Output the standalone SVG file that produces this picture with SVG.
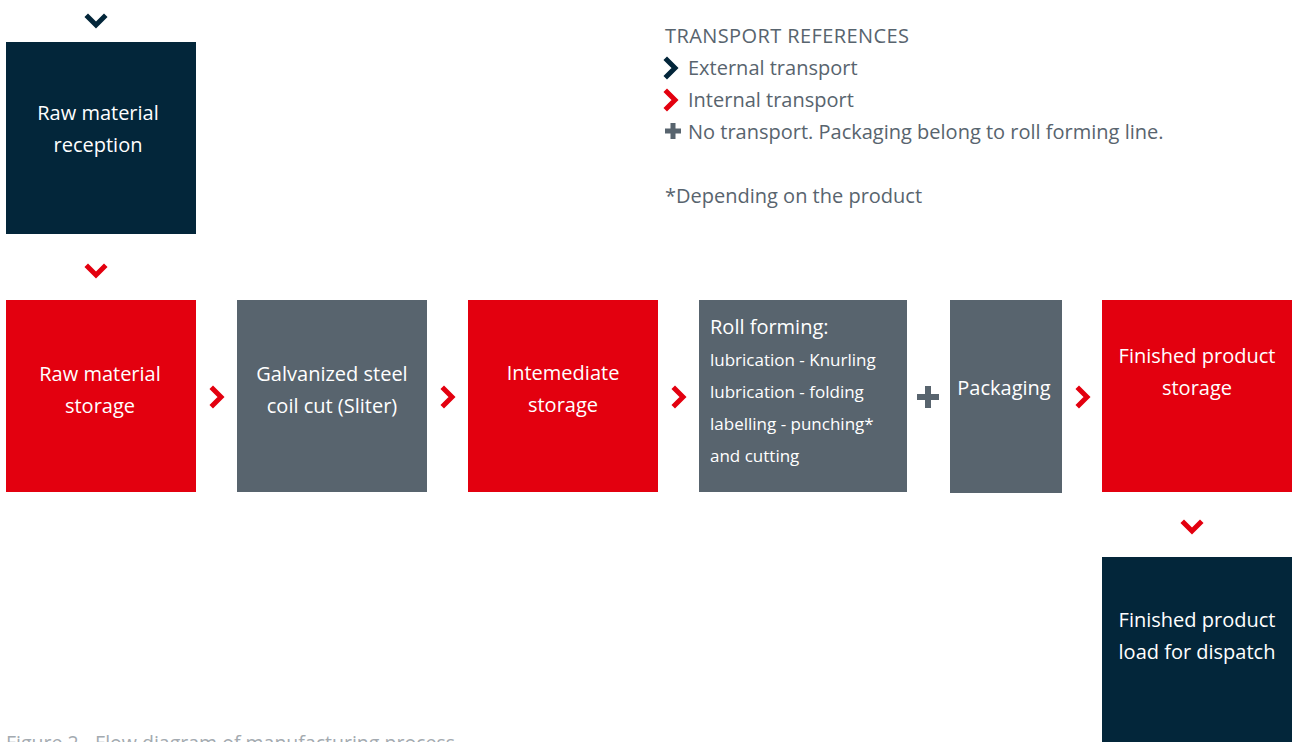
<svg xmlns="http://www.w3.org/2000/svg" width="1292" height="742" viewBox="0 0 1292 742">
  <style>
    .navy { fill: #03263a; }
    .red { fill: #e3000f; }
    .grey { fill: #58646e; }
    .lbl { font-family: "Open Sans", "Liberation Sans", sans-serif; font-size: 20px; fill: #ffffff; text-anchor: middle; }
    .sub { font-family: "Open Sans", "Liberation Sans", sans-serif; font-size: 17px; fill: #ffffff; }
    .leg { font-family: "Open Sans", "Liberation Sans", sans-serif; font-size: 20px; fill: #58646e; }
    .cap { font-family: "Open Sans", "Liberation Sans", sans-serif; font-size: 19.5px; fill: #a3aab0; }
    .chev { fill: none; stroke-width: 5; stroke-linecap: square; stroke-linejoin: miter; }
    .chev-red { stroke: #e3000f; }
    .chev-navy { stroke: #03263a; }
  </style>
  <defs>
    <path id="chev-down" d="M-8,-4 L0,4 L8,-4"/>
    <path id="chev-right" d="M-4,-8 L4,0 L-4,8"/>
    <path id="plus" d="M-3,-11 H3 V-3 H11 V3 H3 V11 H-3 V3 H-11 V-3 H-3 Z"/>
    <path id="plus-small" d="M-2.5,-8 H2.5 V-2.5 H8 V2.5 H2.5 V8 H-2.5 V2.5 H-8 V-2.5 H-2.5 Z"/>
  </defs>

  <rect width="1292" height="742" fill="#ffffff"/>

  <!-- connectors: transport chevrons and the no-transport plus -->
  <g id="connectors">
    <use href="#chev-down" x="96" y="21" class="chev chev-navy"/>
    <use href="#chev-down" x="96" y="271" class="chev chev-red"/>
    <use href="#chev-right" x="217" y="397" class="chev chev-red"/>
    <use href="#chev-right" x="448" y="397" class="chev chev-red"/>
    <use href="#chev-right" x="679" y="397" class="chev chev-red"/>
    <use href="#plus" x="928" y="397" class="grey"/>
    <use href="#chev-right" x="1083" y="397" class="chev chev-red"/>
    <use href="#chev-down" x="1192" y="527" class="chev chev-red"/>
  </g>

  <g id="raw-material-reception">
    <rect x="6" y="42" width="190" height="192" class="navy"/>
    <text class="lbl" x="98" y="120">Raw material</text>
    <text class="lbl" x="98" y="152">reception</text>
  </g>

  <g id="raw-material-storage">
    <rect x="6" y="300" width="190" height="192" class="red"/>
    <text class="lbl" x="100" y="381">Raw material</text>
    <text class="lbl" x="100" y="413">storage</text>
  </g>

  <g id="coil-cut">
    <rect x="237" y="300" width="190" height="192" class="grey"/>
    <text class="lbl" x="332" y="381">Galvanized steel</text>
    <text class="lbl" x="332" y="413">coil cut (Sliter)</text>
  </g>

  <g id="intermediate-storage">
    <rect x="468" y="300" width="190" height="192" class="red"/>
    <text class="lbl" x="563" y="380">Intemediate</text>
    <text class="lbl" x="563" y="412">storage</text>
  </g>

  <g id="roll-forming">
    <rect x="699" y="300" width="208" height="192" class="grey"/>
    <text class="lbl" x="710" y="334" style="text-anchor:start">Roll forming:</text>
    <text class="sub" x="710" y="366">lubrication - Knurling</text>
    <text class="sub" x="710" y="398">lubrication - folding</text>
    <text class="sub" x="710" y="430">labelling - punching*</text>
    <text class="sub" x="710" y="462">and cutting</text>
  </g>

  <g id="packaging">
    <rect x="950" y="300" width="112" height="193" class="grey"/>
    <text class="lbl" x="1004" y="395">Packaging</text>
  </g>

  <g id="finished-product-storage">
    <rect x="1102" y="300" width="190" height="192" class="red"/>
    <text class="lbl" x="1197" y="363">Finished product</text>
    <text class="lbl" x="1197" y="395">storage</text>
  </g>

  <g id="finished-product-dispatch">
    <rect x="1102" y="557" width="190" height="185" class="navy"/>
    <text class="lbl" x="1197" y="627">Finished product</text>
    <text class="lbl" x="1197" y="659">load for dispatch</text>
  </g>

  <!-- legend -->
  <g id="legend">
    <text class="leg" x="665" y="43" letter-spacing="0.4">TRANSPORT REFERENCES</text>
    <use href="#chev-right" x="671" y="68" class="chev chev-navy"/>
    <text class="leg" x="688" y="75">External transport</text>
    <use href="#chev-right" x="671" y="100" class="chev chev-red"/>
    <text class="leg" x="688" y="107">Internal transport</text>
    <use href="#plus-small" x="673" y="131" class="grey"/>
    <text class="leg" x="688" y="139">No transport. Packaging belong to roll forming line.</text>
    <text class="leg" x="665" y="203">*Depending on the product</text>
  </g>

  <g id="caption">
    <text class="cap" x="6" y="750">Figure 2  - Flow diagram of manufacturing process</text>
  </g>
</svg>
